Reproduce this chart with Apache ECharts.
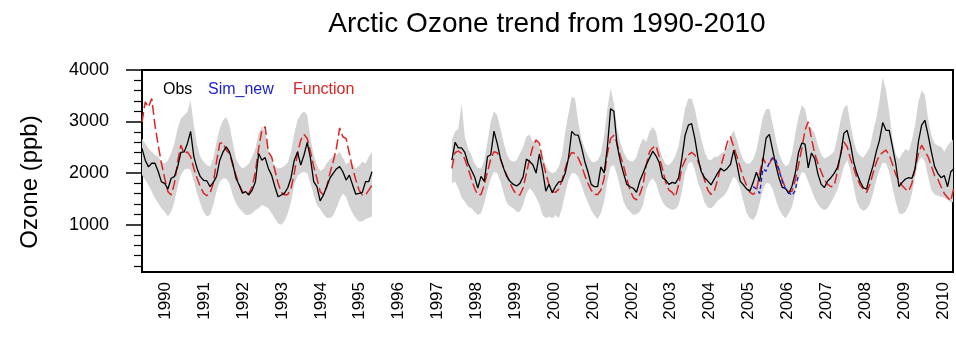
<!DOCTYPE html>
<html>
<head>
<meta charset="utf-8">
<script src="https://cdn.jsdelivr.net/npm/echarts@6/dist/echarts.min.js"></script>
<style>
  html, body { margin: 0; padding: 0; background: #fff; }
  #chart { width: 956px; height: 338px; }
</style>
</head>
<body>
<div id="chart"></div>
<script>
// monthly series, two observation periods (gap 1995-1997)
const startA = 1989.40;
const startB = 1997.37;
const simOffset = 93; // Sim_new starts at month 93 of the second period

const years = [1990, 1991, 1992, 1993, 1994, 1995, 1996, 1997, 1998, 1999, 2000,
  2001, 2002, 2003, 2004, 2005, 2006, 2007, 2008, 2009, 2010];
const majorTicks = [1000, 2000, 3000, 4000];
const minorTicks = [200, 400, 600, 800, 1200, 1400, 1600, 1800, 2200, 2400, 2600, 2800,
  3200, 3400, 3600, 3800];

const obsA = [2480, 2250, 2120, 2190, 2190, 2030, 1830, 1800, 1690, 1900, 1930, 2120,
  2400, 2410, 2570, 2810, 2320, 2090, 1930, 1860, 1850, 1735, 1820, 1930,
  2250, 2410, 2510, 2410, 2190, 1900, 1770, 1610, 1640, 1575, 1670, 1830,
  2380, 2250, 2300, 2090, 1960, 1740, 1540, 1575, 1610, 1715, 1910, 2250,
  2410, 2155, 2350, 2595, 2285, 1835, 1735, 1460, 1575, 1735, 1900, 1995,
  2080, 2125, 2025, 1865, 1960, 1770, 1590, 1605, 1625, 1835, 1835, 2025];
const funcA = [2990, 3380, 3280, 3445, 2930, 2540, 2190, 1900, 1640, 1575, 1800, 2220,
  2540, 2380, 2410, 2320, 2090, 1900, 1735, 1610, 1560, 1610, 1800, 2220,
  2575, 2590, 2445, 2380, 2155, 1960, 1770, 1640, 1575, 1610, 1735, 2030,
  2480, 2830, 2900, 2410, 2315, 2060, 1800, 1625, 1575, 1585, 1705, 1995,
  2380, 2640, 2750, 2670, 2410, 2125, 1895, 1640, 1575, 1735, 1995, 2220,
  2480, 2875, 2705, 2670, 2380, 2090, 1865, 1670, 1575, 1575, 1670, 1770];
const upA = [2670, 2575, 2475, 2415, 2350, 2315, 2220, 2185, 2250, 2380, 2575, 2865,
  3060, 3120, 3185, 3410, 2930, 2540, 2315, 2220, 2155, 2125, 2285, 2605,
  2865, 3025, 3090, 2930, 2605, 2285, 2155, 2090, 2125, 2185, 2315, 2475,
  2770, 2895, 2800, 2445, 2250, 2125, 2090, 2105, 2140, 2205, 2415, 2770,
  3025, 3135, 3200, 3120, 2670, 2350, 2155, 2040, 2080, 2185, 2270, 2315,
  2350, 2415, 2295, 2170, 2220, 2155, 2090, 2140, 2220, 2185, 2315, 2415];
const loA = [1960, 1865, 1770, 1640, 1510, 1415, 1315, 1250, 1155, 1250, 1445, 1735,
  1960, 2060, 2090, 2060, 1835, 1605, 1415, 1250, 1155, 1185, 1380, 1640,
  1835, 1895, 1895, 1800, 1575, 1415, 1315, 1250, 1185, 1185, 1220, 1285,
  1315, 1380, 1350, 1315, 1220, 1125, 1025, 995, 1070, 1220, 1445, 1770,
  1950, 1995, 2025, 1995, 1800, 1575, 1380, 1305, 1200, 1135, 1125, 1175,
  1315, 1480, 1605, 1540, 1350, 1220, 1125, 1060, 1060, 1110, 1135, 1155];

const obsB = [2250, 2595, 2490, 2490, 2400, 2185, 2060, 1930, 1710, 1935, 1840, 2320,
  2355, 2815, 2575, 2285, 2090, 1930, 1835, 1780, 1750, 1800, 1930, 2270,
  2225, 2160, 2000, 2370, 2050, 1650, 1780, 1620, 1740, 1830, 1840, 2000,
  2290, 2810, 2740, 2735, 2510, 2230, 2025, 1780, 1735, 1735, 2120, 2000,
  2500, 3250, 3200, 2540, 2230, 1995, 1780, 1735, 1705, 1625, 1845, 1995,
  2155, 2295, 2425, 2335, 2205, 1910, 1865, 1780, 1820, 1800, 1910, 2285,
  2735, 2930, 2960, 2670, 2285, 2025, 1910, 1845, 1770, 1885, 1995, 2090,
  2040, 2090, 2170, 2445, 2170, 1845, 1770, 1690, 1650, 1820, 2015, 1840,
  2250, 2680, 2750, 2450, 2150, 1900, 1720, 1700, 1600, 1750, 2000, 2400,
  2580, 2560, 2100, 2390, 2280, 1980, 1780, 1720, 1845, 1910, 1995, 2105,
  2350, 2770, 2830, 2575, 2220, 1995, 1835, 1715, 1690, 1930, 2140, 2415,
  2640, 2980, 2830, 2830, 2510, 2185, 1735, 1820, 1885, 1910, 1895, 2090,
  2605, 2930, 3025, 2735, 2415, 2125, 1995, 1910, 1950, 1735, 2025, 2090];
const funcB = [2090, 2400, 2425, 2380, 2270, 2090, 1895, 1705, 1575, 1585, 1770, 2025,
  2270, 2415, 2395, 2270, 2090, 1950, 1800, 1670, 1585, 1575, 1715, 1995,
  2270, 2510, 2640, 2580, 2250, 1995, 1770, 1640, 1625, 1690, 1865, 2090,
  2295, 2400, 2380, 2295, 2155, 1960, 1800, 1670, 1585, 1585, 1670, 1895,
  2380, 2670, 2735, 2575, 2335, 2140, 1885, 1670, 1525, 1480, 1585, 1770,
  2155, 2415, 2490, 2530, 2315, 2080, 1820, 1670, 1625, 1540, 1770, 2105,
  2250, 2350, 2400, 2350, 2220, 2060, 1865, 1670, 1585, 1650, 1865, 2125,
  2350, 2595, 2705, 2510, 2315, 2105, 1910, 1755, 1625, 1585, 1650, 1995,
  2295, 2170, 2185, 2295, 2205, 2060, 1865, 1705, 1625, 1650, 1865, 2155,
  2475, 2830, 2995, 2670, 2380, 2185, 2025, 1865, 1780, 1735, 1755, 2025,
  2380, 2605, 2510, 2285, 2105, 1910, 1770, 1690, 1625, 1770, 1995, 2205,
  2350, 2400, 2445, 2350, 2170, 1975, 1845, 1755, 1690, 1650, 1800, 2090,
  2380, 2540, 2425, 2315, 2140, 1950, 1885, 1735, 1605, 1525, 1460, 1735];
const simB = [1736, 1690, 1607, 2078, 2039, 2207, 2297, 2252, 2058, 1833, 1690, 1626,
  1562, 1671, 1961];
const upB = [2640, 2800, 2865, 3350, 2705, 2475, 2350, 2185, 2105, 2090, 2250, 2605,
  2995, 3200, 3120, 2865, 2595, 2360, 2250, 2220, 2250, 2380, 2510, 2705,
  2750, 2605, 2670, 2510, 2315, 2140, 2040, 1995, 2025, 2125, 2350, 2800,
  3155, 3480, 3445, 2995, 2670, 2475, 2335, 2230, 2205, 2250, 2380, 2735,
  3250, 3640, 3350, 2865, 2595, 2415, 2285, 2230, 2230, 2315, 2530, 2670,
  2605, 2800, 2895, 2800, 2490, 2295, 2170, 2155, 2220, 2335, 2530, 2895,
  3265, 3445, 3445, 3250, 2930, 2670, 2415, 2270, 2250, 2315, 2315, 2380,
  2415, 2475, 2705, 2830, 2640, 2415, 2250, 2185, 2185, 2270, 2445, 2770,
  3090, 3240, 3250, 2960, 2640, 2380, 2220, 2125, 2170, 2380, 2770, 3090,
  3315, 3250, 2930, 2875, 2770, 2540, 2360, 2285, 2315, 2360, 2425, 2705,
  3025, 3265, 3330, 2960, 2640, 2415, 2335, 2295, 2400, 2490, 2800, 3060,
  3415, 3865, 3605, 3185, 2670, 2360, 2270, 2380, 2465, 2425, 2640, 2940,
  3380, 3605, 3510, 3060, 2735, 2575, 2530, 2510, 2415, 2530, 2605, 2670];
const loB = [1800, 1835, 1705, 1525, 1445, 1350, 1315, 1250, 1185, 1220, 1415, 1670,
  1895, 2025, 1995, 1835, 1605, 1415, 1350, 1315, 1250, 1250, 1380, 1605,
  1705, 1640, 1525, 1395, 1185, 1125, 1155, 1125, 1185, 1125, 1315, 1605,
  1865, 1995, 1995, 1930, 1770, 1575, 1430, 1285, 1175, 1110, 1220, 1445,
  1835, 2125, 2155, 1960, 1705, 1445, 1315, 1250, 1185, 1200, 1250, 1380,
  1670, 1835, 1895, 1800, 1605, 1445, 1350, 1315, 1285, 1305, 1380, 1640,
  1995, 2185, 2220, 2060, 1800, 1640, 1430, 1330, 1315, 1370, 1460, 1510,
  1560, 1650, 1800, 1930, 1865, 1705, 1445, 1220, 1125, 1090, 1185, 1415,
  1670, 1800, 1800, 1690, 1480, 1305, 1185, 1125, 1220, 1350, 1605, 1865,
  2025, 1995, 1835, 1670, 1510, 1395, 1315, 1285, 1315, 1430, 1540, 1670,
  1885, 2125, 2250, 2060, 1735, 1445, 1315, 1265, 1305, 1395, 1605, 1865,
  2060, 2205, 2185, 2025, 1715, 1445, 1220, 1200, 1250, 1370, 1605, 1930,
  2220, 2315, 2220, 1930, 1670, 1585, 1560, 1540, 1525, 1480, 1430, 1445];

function pts(start, vals, offset) {
  offset = offset || 0;
  return vals.map((v, k) => [start + (k + offset) / 12, v]);
}

const FONT = "Liberation Sans, Arial, Helvetica, sans-serif";
const RED = "#dc2424";
const BLUE = "#1c1cd0";
const GRAY = "#d3d3d3";

// range band: one polygon per period, upper edge then lower edge back
const bands = [
  { start: startA, up: upA, lo: loA },
  { start: startB, up: upB, lo: loB }
];

function lineSeries(data, color, width, type, z) {
  return {
    type: "line", data: data, symbol: "none", z: z, silent: true,
    lineStyle: { color: color, width: width, type: type }
  };
}

const chart = echarts.init(document.getElementById("chart"));

chart.setOption({
  animation: false,
  backgroundColor: "#fff",
  grid: {
    left: 142, top: 70, width: 811, height: 202,
    show: true, borderColor: "#000", borderWidth: 2, backgroundColor: "transparent"
  },
  xAxis: {
    type: "value", min: 1989.40, max: 2010.26,
    axisLine: { onZero: false, lineStyle: { color: "#000", width: 2 } },
    axisTick: { show: false },
    splitLine: { show: false },
    axisLabel: {
      customValues: years, rotate: 90, margin: 10,
      fontSize: 17, color: "#000", fontFamily: FONT,
      formatter: (v) => String(v)
    }
  },
  yAxis: [
    {
      type: "value", min: 80, max: 4000,
      axisLine: { show: true, lineStyle: { color: "#000", width: 2 } },
      axisTick: { show: true, customValues: majorTicks, length: 16, lineStyle: { color: "#000", width: 1.5 } },
      axisLabel: {
        customValues: majorTicks, margin: 33, fontSize: 18, color: "#000", fontFamily: FONT,
        formatter: (v) => String(v)
      },
      splitLine: { show: false }
    },
    {
      type: "value", min: 80, max: 4000, position: "left",
      axisLine: { show: false },
      axisTick: { show: true, customValues: minorTicks, length: 8, lineStyle: { color: "#000", width: 1.2 } },
      axisLabel: { show: false },
      splitLine: { show: false }
    }
  ],
  graphic: [
    {
      type: "text", x: 547, y: 24,
      style: { text: "Arctic Ozone trend from 1990-2010", fill: "#000", font: "28px " + FONT,
        textAlign: "center", textVerticalAlign: "middle" }
    },
    {
      type: "text", x: 30, y: 182, rotation: Math.PI / 2,
      style: { text: "Ozone (ppb)", fill: "#000", font: "24px " + FONT,
        textAlign: "center", textVerticalAlign: "middle" }
    },
    {
      type: "text", x: 163, y: 90,
      style: { text: "Obs", fill: "#000", font: "16px " + FONT, textVerticalAlign: "middle" }
    },
    {
      type: "text", x: 208, y: 90,
      style: { text: "Sim_new", fill: BLUE, font: "16px " + FONT, textVerticalAlign: "middle" }
    },
    {
      type: "text", x: 293, y: 90,
      style: { text: "Function", fill: RED, font: "16px " + FONT, textVerticalAlign: "middle" }
    }
  ],
  series: [
    {
      type: "custom", z: 1, silent: true, clip: true,
      data: bands.map((b) => [b.start, b.up[0]]),
      renderItem: function (params, api) {
        const b = bands[params.dataIndex];
        const top = b.up.map((v, k) => api.coord([b.start + k / 12, v]));
        const bottom = b.lo.map((v, k) => api.coord([b.start + k / 12, v])).reverse();
        return {
          type: "polygon",
          shape: { points: top.concat(bottom) },
          style: { fill: GRAY, stroke: null }
        };
      }
    },
    lineSeries(pts(startA, funcA), RED, 1.5, [10, 4], 3),
    lineSeries(pts(startB, funcB), RED, 1.5, [10, 4], 3),
    lineSeries(pts(startA, obsA), "#000", 1.3, "solid", 4),
    lineSeries(pts(startB, obsB), "#000", 1.3, "solid", 4),
    lineSeries(pts(startB, simB, simOffset), BLUE, 1.4, [4, 3], 5)
  ]
});
</script>
</body>
</html>
